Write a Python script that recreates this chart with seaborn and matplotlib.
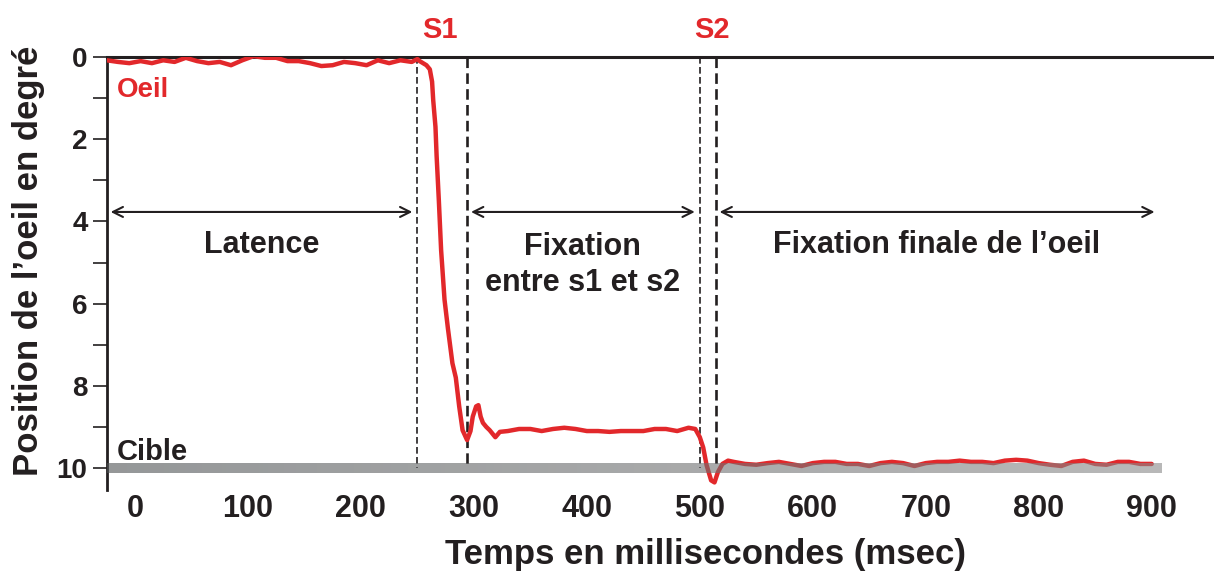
import numpy as np
import matplotlib
matplotlib.use("Agg")
import matplotlib.pyplot as plt
import seaborn as sns

# eye trace (time in ms, position in degrees)
pre_t = [-25, -15, -5, 5, 15, 25, 35, 45, 55, 65, 75, 85, 95, 105, 115, 125,
         135, 145, 155, 165, 175, 185, 195, 205, 215, 225, 235, 245, 250]
pre_pos = [0.08, 0.12, 0.15, 0.1, 0.15, 0.08, 0.12, 0.02, 0.1, 0.15, 0.12, 0.2,
           0.08, -0.02, 0.02, 0.02, 0.1, 0.1, 0.15, 0.22, 0.2, 0.12, 0.15, 0.2,
           0.08, 0.15, 0.08, 0.12, 0.05]

sac1_t = [252, 258, 261, 263, 264, 266, 267, 269, 271, 274, 277, 281, 284, 287,
          290, 294, 297, 299, 302, 304, 306, 308, 311, 314, 319, 323]
sac1_pos = [0.1, 0.2, 0.3, 0.6, 1.05, 1.7, 2.4, 3.5, 4.7, 5.9, 6.6, 7.45, 7.8,
            8.5, 9.08, 9.32, 9.1, 8.75, 8.5, 8.47, 8.75, 8.9, 9.0, 9.08, 9.25, 9.12]

fix_t = [330, 340, 350, 360, 370, 380, 390, 400, 410, 420, 430, 440, 450, 460,
         470, 480, 490, 496]
fix_pos = [9.1, 9.05, 9.05, 9.1, 9.05, 9.02, 9.05, 9.1, 9.1, 9.12, 9.1, 9.1,
           9.1, 9.05, 9.05, 9.1, 9.02, 9.05]

sac2_t = [500, 503, 506, 510, 513, 516, 520, 525, 530]
sac2_pos = [9.25, 9.5, 9.93, 10.3, 10.35, 10.1, 9.9, 9.82, 9.85]

final_t = list(range(540, 901, 10))
final_pos = [9.9, 9.92, 9.88, 9.85, 9.9, 9.95, 9.88, 9.85, 9.85, 9.9, 9.9, 9.95,
             9.88, 9.85, 9.88, 9.95, 9.88, 9.85, 9.85, 9.82, 9.85, 9.85, 9.88,
             9.82, 9.8, 9.82, 9.88, 9.92, 9.95, 9.85, 9.82, 9.9, 9.92, 9.85,
             9.85, 9.9, 9.9]

target_pos = 10
target_span = [-25, 909]
s_times = [250, 294, 500, 514]
s_labels = ["S1", "S2"]
s_label_t = [270, 511]
periods = ["Latence", "Fixation\nentre s1 et s2", "Fixation finale de l\u2019oeil"]
period_spans = [(-24, 248), (295, 498), (515, 905)]
xticks = [0, 100, 200, 300, 400, 500, 600, 700, 800, 900]
yticks = [0, 2, 4, 6, 8, 10]

red = "#e2282b"
ink = "#231f20"

t = np.array(pre_t + sac1_t + fix_t + sac2_t + final_t)
pos = np.array(pre_pos + sac1_pos + fix_pos + sac2_pos + final_pos)

sns.set_theme(style="white")
plt.rcParams["font.family"] = ["Liberation Sans", "DejaVu Sans"]
plt.rcParams["font.weight"] = "bold"

fig = plt.figure(figsize=(12.14, 5.78), dpi=100)
ax = fig.add_axes([0.0881, 0.1522, 0.9099, 0.7492])

sns.lineplot(x=t, y=pos, color=red, linewidth=3.2, ax=ax, zorder=3)

# target band, gradient grey laid over the trace
grad = np.linspace(0, 1, 256).reshape(1, -1)
ax.imshow(grad, cmap=matplotlib.colors.LinearSegmentedColormap.from_list(
    "g", ["#4e5254", "#8a8a8a"]), aspect="auto", alpha=0.6, zorder=4,
    extent=(target_span[0], target_span[1], target_pos + 0.12, target_pos - 0.12))

for i, st in enumerate(s_times):
    ax.plot([st, st], [0, target_pos], color=ink, linestyle=(0, (4, 2)),
            linewidth=1.2 if i % 2 == 0 else 1.9, zorder=2)

for lab, lt in zip(s_labels, s_label_t):
    ax.text(lt, -0.66, lab, color=red, fontsize=21, fontweight="bold",
            ha="center", va="center", clip_on=False)

for lab, (a, b) in zip(periods, period_spans):
    ax.annotate("", xy=(a, 3.77), xytext=(b, 3.77),
                arrowprops=dict(arrowstyle="<->", color=ink, lw=1.5,
                                mutation_scale=18))
    ax.text((a + b) / 2, 4.57 if "\n" not in lab else 5.06, lab, color=ink,
            fontsize=22, fontweight="bold", ha="center", va="center",
            linespacing=1.25)

ax.text(-16, 0.8, "Oeil", color=red, fontsize=20, fontweight="bold",
        ha="left", va="center")
ax.text(-16, 9.6, "Cible", color=ink, fontsize=21, fontweight="bold",
        ha="left", va="center")

ax.set_xlim(-24.8, 953)
ax.set_ylim(10.535, 0)
ax.set_xticks(xticks)
ax.set_xticklabels([str(v) for v in xticks])
ax.set_yticks(yticks)
ax.set_yticks([1, 3, 5, 7, 9], minor=True)
ax.tick_params(axis="x", length=0, labelsize=22, pad=3, colors=ink)
ax.tick_params(axis="y", which="both", direction="out", length=10, width=1.2,
               left=True, labelsize=20, pad=4, colors=ink)
for lab in ax.get_xticklabels() + ax.get_yticklabels():
    lab.set_fontweight("bold")

ax.spines["right"].set_visible(False)
ax.spines["bottom"].set_visible(False)
ax.spines["top"].set_linewidth(2.2)
ax.spines["top"].set_color(ink)
ax.spines["left"].set_linewidth(2)
ax.spines["left"].set_color(ink)

ax.set_xlabel("Temps en millisecondes (msec)", fontsize=25, fontweight="bold",
              color=ink)
ax.set_ylabel("Position de l\u2019oeil en degr\u00e9", fontsize=25,
              fontweight="bold", color=ink)
ax.xaxis.set_label_coords(0.542, -0.11)
ax.yaxis.set_label_coords(-0.056, 0.53)
ax.grid(False)

fig.savefig("out.png", dpi=100)
